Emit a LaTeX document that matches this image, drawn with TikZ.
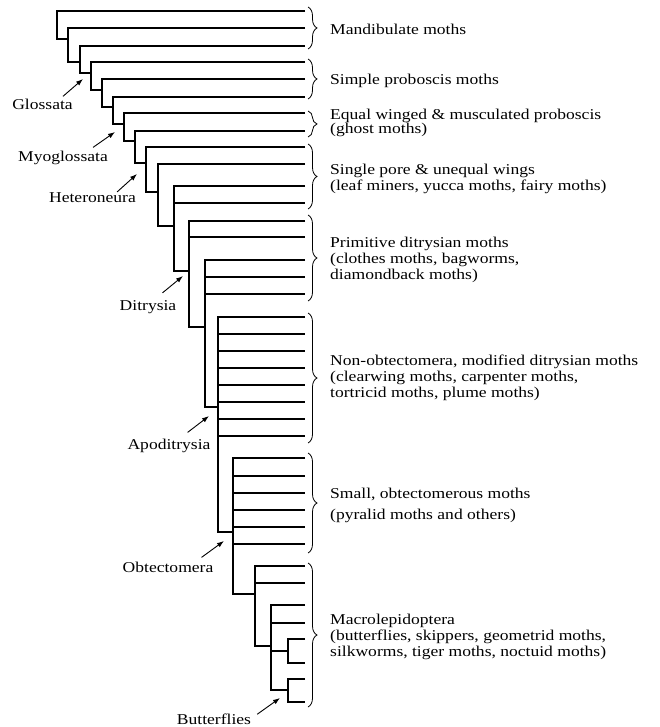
\documentclass[tikz,border=0pt]{standalone}
\usepackage{fontspec}
\setmainfont{Liberation Serif}[FakeStretch=1.17]
\usetikzlibrary{arrows.meta,decorations.pathreplacing}

\begin{document}
\begin{tikzpicture}[x=1pt,y=-1pt,
	branch/.style={line width=1.7pt},
	grp/.style={decorate,decoration={brace,amplitude=9pt},line width=0.8pt},
	pointer/.style={-{Latex[length=7pt,width=5pt]},line width=0.9pt},
	txt/.style={anchor=base west,align=left,inner sep=0pt,font=\fontsize{15}{16}\selectfont},
	clade/.style={anchor=base,inner sep=0pt,font=\fontsize{15}{16}\selectfont}]
	\useasboundingbox (0,0) rectangle (660,727);
	\foreach \cx/\ctop/\cbot/\cnext in {57/11/39/68, 68/28/62/80, 80/46/73/91, 91/62/90/102,
		102/79/107/113, 113/97/124/124, 124/113/141/135, 135/131/163/146, 146/147/192/158,
		158/164/226/174, 174/186/271/189, 189/221/327/205, 205/260/407/218, 218/317/532/233,
		233/458/594/255, 255/566/646/271, 271/605/690/288}
		\draw[branch] (305,\ctop) -| (\cx,\cbot) -- (\cnext,\cbot);
	\foreach \lx/\ly in {174/203, 189/237, 205/277, 205/294, 218/334, 218/351, 218/368, 218/385,
		218/402, 218/419, 218/436, 233/476, 233/493, 233/510, 233/527, 233/544, 255/583, 271/623}
		\draw[branch] (\lx,\ly) -- (305,\ly);
	\draw[branch] (271,651) -- (288,651);
	\draw[branch] (305,639) -| (288,663) -- (305,663);
	\draw[branch] (305,679) -| (288,702) -- (305,702);
	\draw[grp] (308,7) -- (308,49);
	\draw[grp] (308,59) -- (308,99);
	\draw[grp] (308,111) -- (308,137);
	\draw[grp] (308,144) -- (308,209);
	\draw[grp] (308,215) -- (308,301);
	\draw[grp] (308,313) -- (308,443);
	\draw[grp] (308,453) -- (308,553);
	\draw[grp] (308,563) -- (308,707);
	\node[txt] (mandib) at (330,35) {Mandibulate moths};
	\node[txt] (simple) at (330,85) {Simple proboscis moths};
	\node[txt] (equal) at (330,134) {Equal winged \& musculated proboscis\\[-2pt](ghost moths)};
	\node[txt] (single) at (330,191) {Single pore \& unequal wings\\(leaf miners, yucca moths, fairy moths)};
	\node[txt] (prim) at (330,279) {Primitive ditrysian moths\\(clothes moths, bagworms,\\diamondback moths)};
	\node[txt] (nonobt) at (330,397) {Non-obtectomera, modified ditrysian moths\\(clearwing moths, carpenter moths,\\tortricid moths, plume moths)};
	\node[txt] (small) at (330,519) {Small, obtectomerous moths\\[5pt](pyralid moths and others)};
	\node[txt] (macro) at (330,656) {Macrolepidoptera\\(butterflies, skippers, geometrid moths,\\silkworms, tiger moths, noctuid moths)};
	\node[clade] (glossata) at (42.5,110) {Glossata};
	\node[clade] (myo) at (63,162) {Myoglossata};
	\node[clade] (hetero) at (92.5,203) {Heteroneura};
	\node[clade] (ditry) at (148,310) {Ditrysia};
	\node[clade] (apodi) at (169,449) {Apoditrysia};
	\node[clade] (obtect) at (168,572) {Obtectomera};
	\node[clade] (butter) at (214,724) {Butterflies};
	\coordinate (gl-head) at (83,79);
	\coordinate (my-head) at (115,132);
	\coordinate (he-head) at (137,174);
	\coordinate (di-head) at (183,276);
	\coordinate (ap-head) at (209,416);
	\coordinate (ob-head) at (224,541);
	\coordinate (bu-head) at (280,698);
	\draw[pointer] ([shift={(-10,-3)}]glossata.north east) -- (gl-head);
	\draw[pointer] ([shift={(-15,-4)}]myo.north east) -- (my-head);
	\draw[pointer] ([shift={(-19,-1)}]hetero.north east) -- (he-head);
	\draw[pointer] ([shift={(-14,-7)}]ditry.north east) -- (di-head);
	\draw[pointer] ([shift={(-23,-6)}]apodi.north east) -- (ap-head);
	\draw[pointer] ([shift={(-12,-4)}]obtect.north east) -- (ob-head);
	\draw[pointer] ([shift={(6,1)}]butter.north east) -- (bu-head);
\end{tikzpicture}
\end{document}
